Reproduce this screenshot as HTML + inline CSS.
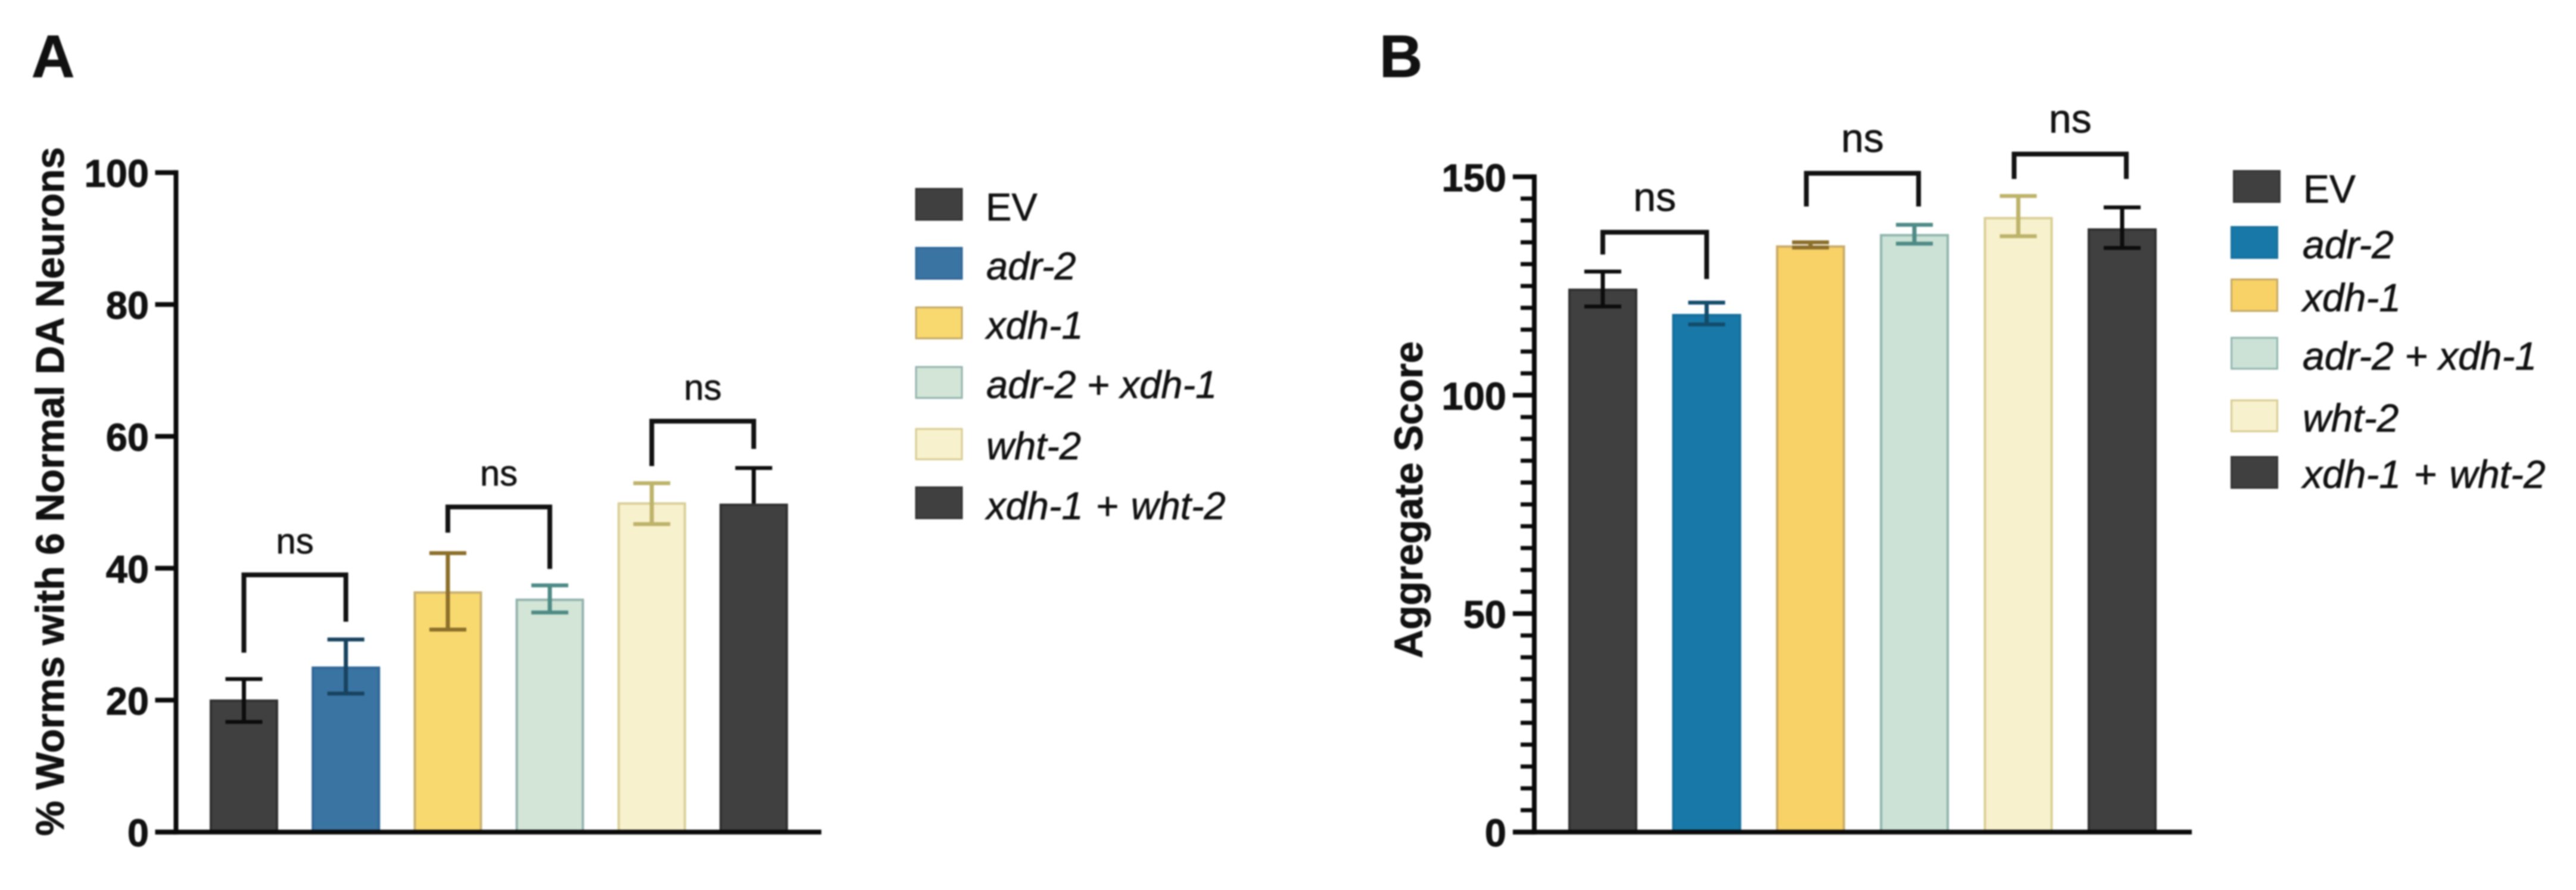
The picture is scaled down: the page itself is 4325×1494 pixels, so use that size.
<!DOCTYPE html>
<html lang="en">
<head>
<meta charset="utf-8">
<title>Panels A and B bar charts</title>
<style>
html,body{margin:0;padding:0;background:#fff;}
body{width:4325px;height:1494px;overflow:hidden;}
svg{display:block;filter:blur(1.2px);}
text{font-family:"Liberation Sans",Arial,sans-serif;fill:#111;}
.tick{font-weight:700;font-size:65px;text-anchor:end;stroke:#111;stroke-width:1;}
.title{font-weight:700;font-size:66.5px;text-anchor:middle;stroke:#111;stroke-width:0.8;}
.panel{font-weight:700;font-size:100px;stroke:#111;stroke-width:1;}
.leg{font-style:italic;font-size:65px;stroke:#111;stroke-width:0.7;}
.legb{font-size:66px;}
.ns{stroke:#111;stroke-width:0.7;}
</style>
</head>
<body>
<svg id="figure" width="4325" height="1494" viewBox="0 0 4325 1494" xmlns="http://www.w3.org/2000/svg">
  <rect x="0" y="0" width="4325" height="1494" fill="#ffffff"/>
  <text class="panel" x="53" y="129">A</text>
  <text class="panel" x="2316" y="129">B</text>
  <text class="title" transform="translate(107,825) rotate(-90)">% Worms with 6 Normal DA Neurons</text>
  <text class="title" transform="translate(2388,839) rotate(-90)">Aggregate Score</text>

  <g>
    <g><rect x="1538" y="317" width="77" height="52" fill="#404040" stroke="#333" stroke-width="3"/><text class="leg" style="font-style:normal" x="1655" y="370">EV</text></g>
    <g><rect x="1538" y="416" width="77" height="52" fill="#3a74a3" stroke="#2f6797" stroke-width="3"/><text class="leg" x="1656" y="469">adr-2</text></g>
    <g><rect x="1538" y="516" width="77" height="52" fill="#f8d96f" stroke="#c2a765" stroke-width="3"/><text class="leg" x="1656" y="568.5">xdh-1</text></g>
    <g><rect x="1538" y="616" width="77" height="52" fill="#d2e5d6" stroke="#93b2ad" stroke-width="3"/><text class="leg" x="1656" y="668">adr-2 + xdh-1</text></g>
    <g><rect x="1538" y="720" width="77" height="51" fill="#f8f1cd" stroke="#d6cc90" stroke-width="3"/><text class="leg" x="1656" y="771">wht-2</text></g>
    <g><rect x="1538" y="818" width="77" height="52" fill="#404040" stroke="#333" stroke-width="3"/><text class="leg" style="word-spacing:3px" x="1656" y="871.5">xdh-1 + wht-2</text></g>
  </g>
  <g>
    <g><rect x="3750.5" y="287" width="77" height="52" fill="#404040" stroke="#333" stroke-width="3"/><text class="leg legb" style="font-style:normal" x="3867" y="340">EV</text></g>
    <g><rect x="3746.5" y="381" width="77" height="52" fill="#1878a8" stroke="#166f9c" stroke-width="3"/><text class="leg legb" x="3866" y="433.5">adr-2</text></g>
    <g><rect x="3746.5" y="469" width="77" height="53" fill="#f8d266" stroke="#c2a765" stroke-width="3"/><text class="leg legb" x="3866" y="522.5">xdh-1</text></g>
    <g><rect x="3746.5" y="567" width="77" height="52" fill="#cce2d6" stroke="#8fb5ad" stroke-width="3"/><text class="leg legb" x="3866" y="620.5">adr-2 + xdh-1</text></g>
    <g><rect x="3746.5" y="672" width="77" height="52" fill="#f8f1cd" stroke="#d6cc90" stroke-width="3"/><text class="leg legb" x="3866" y="724.5">wht-2</text></g>
    <g><rect x="3746.5" y="767" width="77" height="52" fill="#404040" stroke="#333" stroke-width="3"/><text class="leg legb" style="word-spacing:3px" x="3866" y="819">xdh-1 + wht-2</text></g>
  </g>
</svg>
<script>
// ---- data ----
const categories = ['EV', 'adr-2', 'xdh-1', 'adr-2 + xdh-1', 'wht-2', 'xdh-1 + wht-2'];

const valuesA = [20.1, 25.1, 36.5, 35.4, 50.0, 49.8];
const errHighA = [23.2, 29.2, 42.3, 37.4, 52.9, 55.2];
const errLowA = [16.7, 21.0, 30.7, 33.3, 46.7, 49.8];
const tickLabelsA = [0, 20, 40, 60, 80, 100];
const bracketTopA = [39.0, 49.3, 62.3];
const bracketLeftEndA = [27.2, 45.4, 55.5];
const bracketRightEndA = [31.9, 39.9, 58.1];

const valuesB = [124.4, 118.6, 134.3, 136.9, 140.8, 138.2];
const errHighB = [128.3, 121.2, 135.0, 139.0, 145.6, 143.0];
const errLowB = [120.3, 116.2, 133.8, 134.7, 136.4, 133.7];
const tickLabelsB = [0, 50, 100, 150];
const minorTickValuesB = [5, 10, 15, 20, 25, 30, 35, 40, 45, 55, 60, 65, 70, 75, 80, 85, 90, 95, 105, 110, 115, 120, 125, 130, 135, 140, 145];
const bracketTopB = [137.3, 150.8, 155.2];
const bracketLeftEndB = [132.2, 143.2, 149.5];
const bracketRightEndB = [126.6, 143.2, 149.5];

// ---- axis functions ----
const baseY = 1396.7;
function yA(v) { return baseY - v * 11.07; }
function yB(v) { return baseY - v * 7.333; }
function xA(i) { return 409.5 + i * 171.2; }
function xB(i) { return 2691 + i * 174.4; }

const fillsA = ['#404040', '#3a74a3', '#f8d96f', '#d2e5d6', '#f8f1cd', '#404040'];
const edgesA = ['#2f2f2f', '#2f6797', '#c9b070', '#93b2ad', '#d9cf96', '#2f2f2f'];
const errColsA = ['#0c0c0c', '#17435f', '#8c6f2a', '#4e8a86', '#bdb36a', '#0c0c0c'];
const fillsB = ['#404040', '#1878a8', '#f8d266', '#cce2d6', '#f8f1cd', '#404040'];
const edgesB = ['#2f2f2f', '#166f9c', '#c9ab68', '#8fb5ad', '#d9cf96', '#2f2f2f'];
const errColsB = ['#0c0c0c', '#134c6b', '#8c6f2a', '#4e8a86', '#bdb36a', '#0c0c0c'];

const NS = 'http://www.w3.org/2000/svg';
const svg = document.getElementById('figure');
function make(tag, attrs, parent) {
  const node = document.createElementNS(NS, tag);
  for (const k in attrs) node.setAttribute(k, attrs[k]);
  parent.appendChild(node);
  return node;
}
function line(parent, x1, y1, x2, y2, col, w) {
  return make('line', { x1: x1, y1: y1, x2: x2, y2: y2, stroke: col, 'stroke-width': w }, parent);
}

function drawChart(o) {
  const g = make('g', {}, svg);
  
  

  // bars
  o.values.forEach(function (v, i) {
    const bar = make('rect', {
      x: o.x(i) - o.barW / 2 + 2, y: o.y(v) + 2, width: o.barW - 4, height: baseY - o.y(v) - 2,
      fill: o.fills[i], stroke: o.edges[i], 'stroke-width': 4
    }, g);
    
    
  });
  // error bars
  o.values.forEach(function (v, i) {
    const eg = make('g', {}, g);
    
    
    const cx = o.x(i);
    line(eg, cx, o.y(o.high[i]), cx, o.y(o.low[i]), o.errCols[i], 7);
    line(eg, cx - 31, o.y(o.high[i]), cx + 31, o.y(o.high[i]), o.errCols[i], 6.5);
    if (o.low[i] < v) {
      line(eg, cx - 31, o.y(o.low[i]), cx + 31, o.y(o.low[i]), o.errCols[i], 6.5);
    }
  });
  // axes
  const axis = make('g', {}, g);
  
  
  line(axis, o.axisX, o.y(o.ticks[o.ticks.length - 1]) - 4, o.axisX, baseY + 4, '#0a0a0a', 8);
  line(axis, o.axisX - o.majorLen, baseY, o.axisEnd, baseY, '#0a0a0a', 8);
  o.ticks.forEach(function (t) {
    line(axis, o.axisX - o.majorLen, o.y(t), o.axisX, o.y(t), '#0a0a0a', 8);
    const lab = make('text', { class: 'tick', x: o.labelX, y: o.y(t) + 24 }, axis);
    lab.textContent = t;
    
    
  });
  o.minor.forEach(function (t) {
    line(axis, o.axisX - 23, o.y(t), o.axisX, o.y(t), '#0a0a0a', 7);
  });
  // significance brackets
  o.bTop.forEach(function (t, k) {
    const b = make('g', {}, g);
    
    
    const spread = o.spread(k);
    const x1 = o.x(k * 2) - spread;
    const x2 = o.x(k * 2 + 1) + spread;
    make('path', {
      d: 'M' + x1 + ' ' + o.y(o.bLeft[k]) + 'V' + o.y(t) + 'H' + x2 + 'V' + o.y(o.bRight[k]),
      fill: 'none', stroke: '#111', 'stroke-width': 8
    }, b);
    const ns = make('text', { class: 'ns', x: (x1 + x2) / 2, y: o.y(t) - 36, 'text-anchor': 'middle', 'font-size': o.nsSize }, b);
    ns.textContent = 'ns';
    
    
  });
}

drawChart({
  id: 'a', values: valuesA, high: errHighA, low: errLowA, ticks: tickLabelsA, minor: [],
  x: xA, y: yA, barW: 115, fills: fillsA, edges: edgesA, errCols: errColsA,
  axisX: 295.5, axisEnd: 1379, majorLen: 35, labelX: 250,
  bTop: bracketTopA, bLeft: bracketLeftEndA, bRight: bracketRightEndA,
  spread: function () { return 0; }, nsSize: 60
});
drawChart({
  id: 'b', values: valuesB, high: errHighB, low: errLowB, ticks: tickLabelsB, minor: minorTickValuesB,
  x: xB, y: yB, barW: 116, fills: fillsB, edges: edgesB, errCols: errColsB,
  axisX: 2576, axisEnd: 3680, majorLen: 36, labelX: 2529,
  bTop: bracketTopB, bLeft: bracketLeftEndB, bRight: bracketRightEndB,
  spread: function (k) { return k === 0 ? 0 : 7; }, nsSize: 68
});
</script>
</body>
</html>
